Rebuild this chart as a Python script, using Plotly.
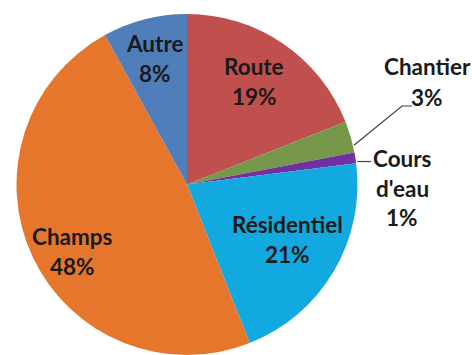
import math
import plotly.graph_objects as go

# Répartition des sources (%)
categories = ["Route", "Chantier", "Cours d'eau", "Résidentiel", "Champs", "Autre"]
values = [19, 3, 1, 21, 48, 8]
colors = ["#C0504D", "#77984A", "#7030A0", "#12A9E0", "#E6762B", "#4F7EBB"]

W, H = 472, 355
CX, CY, R = 187.0, 184.5, 170.5      # pie centre / radius in pixels
FONT = dict(family="Lato, Open Sans, sans-serif", size=22.5, color="#1a1a1a")


def px(x, y):
    """Pixel position -> paper coordinates (no margins)."""
    return x / W, 1 - y / H


fig = go.Figure(go.Pie(
    labels=categories,
    values=values,
    sort=False,
    direction="clockwise",
    rotation=0,
    marker=dict(colors=colors, line=dict(width=0)),
    textinfo="none",
    hoverinfo="label+percent",
    domain=dict(x=[(CX - R) / W, (CX + R) / W], y=[0, 2 * R / H]),
))

total = sum(values)
cum = 0.0
mids = []
for v in values:
    mids.append(math.radians((cum + v / 2) / total * 360))
    cum += v


def polar(angle, r):
    return CX + r * math.sin(angle), CY - r * math.cos(angle)


annotations = []
shapes = []


def add_label(name_lines, pct, x, y, step=30):
    lines = name_lines + [pct]
    y0 = y - step * (len(lines) - 1) / 2
    for i, t in enumerate(lines):
        ax, ay = px(x, y0 + i * step)
        annotations.append(dict(x=ax, y=ay, xref="paper", yref="paper", text=t,
                                showarrow=False, font=FONT, xanchor="center",
                                yanchor="middle"))


# inner labels: (radial fraction, angular shift in degrees)
inner = {"Route": (0.72, -1), "Résidentiel": (0.67, -2),
         "Champs": (0.78, -5), "Autre": (0.76, 0)}
for name, v, a in zip(categories, values, mids):
    pct = f"<b>{round(v / total * 100)}%</b>"
    if name in inner:
        frac, shift = inner[name]
        x, y = polar(a + math.radians(shift), R * frac)
        add_label([f"<b>{name}</b>"], pct, x, y)

# outer labels with leader lines
i_ch = categories.index("Chantier")
sx, sy = polar(mids[i_ch] + math.radians(3), R + 1)
shapes.append(dict(type="path", xref="paper", yref="paper",
                   path="M {} {} L {} {} L {} {}".format(
                       *px(sx, sy), *px(402, 106), *px(412, 106)),
                   line=dict(color="#404040", width=1.2)))
add_label([f"<b>{categories[i_ch]}</b>"],
          f"<b>{round(values[i_ch] / total * 100)}%</b>", 427, 82)

i_ce = categories.index("Cours d'eau")
sx, sy = polar(mids[i_ce], R + 2)
shapes.append(dict(type="path", xref="paper", yref="paper",
                   path="M {} {} L {} {}".format(*px(sx, sy + 4), *px(371, sy + 4)),
                   line=dict(color="#404040", width=1.2)))
add_label(["<b>Cours</b>", "<b>d'eau</b>"],
          f"<b>{round(values[i_ce] / total * 100)}%</b>", 402, 188)

fig.update_layout(
    width=W, height=H,
    margin=dict(l=0, r=0, t=0, b=0),
    paper_bgcolor="white",
    showlegend=False,
    annotations=annotations,
    shapes=shapes,
)

fig.write_html("out.html")
